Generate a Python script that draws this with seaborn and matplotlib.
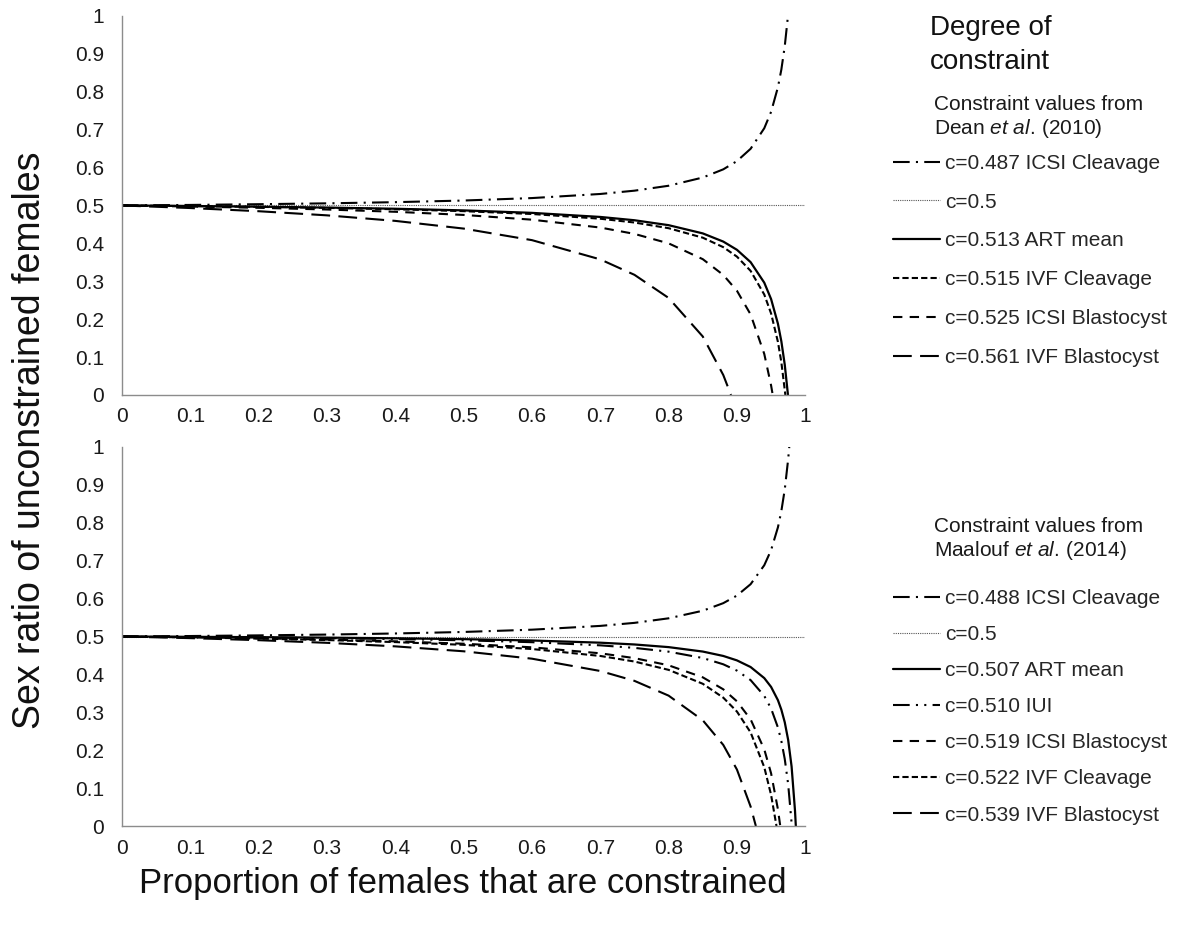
import matplotlib
matplotlib.use('Agg')
import matplotlib.pyplot as plt
import seaborn as sns

# axis ticks
TICKS = [0, 0.1, 0.2, 0.3, 0.4, 0.5, 0.6, 0.7, 0.8, 0.9, 1]
TICK_LABELS = ['0', '0.1', '0.2', '0.3', '0.4', '0.5', '0.6', '0.7', '0.8', '0.9', '1']

# values (Dean et al. 2010)
x_d487 = [0, .1, .2, .3, .4, .5, .6, .7, .75, .8, .85, .88, .9, .92, .94, .95, .96, .965, .97, .9747]
y_d487 = [.5, .5014, .5033, .5056, .5087, .513, .5195, .5303, .539, .552, .5737, .5953, .617, .6495,
          .7037, .747, .812, .8584, .9203, 1.0]
x_d500 = [0, 1]
y_d500 = [.5, .5]
x_d513 = [0, .1, .2, .3, .4, .5, .6, .7, .75, .8, .85, .88, .9, .92, .94, .95, .96, .965, .97, .9747]
y_d513 = [.5, .4986, .4968, .4944, .4913, .487, .4805, .4697, .461, .448, .4263, .4047, .383, .3505,
          .2963, .253, .188, .1416, .0797, 0]
x_d515 = [0, .1, .2, .3, .4, .5, .6, .7, .75, .8, .85, .88, .9, .92, .94, .95, .96, .965, .9709]
y_d515 = [.5, .4983, .4963, .4936, .49, .485, .4775, .465, .455, .44, .415, .39, .365, .3275,
          .265, .215, .14, .0864, 0]
x_d525 = [0, .1, .2, .3, .4, .5, .6, .7, .75, .8, .85, .88, .9, .92, .94, .95, .9524]
y_d525 = [.5, .4972, .4938, .4893, .4833, .475, .4625, .4417, .425, .4, .3583, .3167, .275, .2125,
          .1083, .025, 0]
x_d561 = [0, .1, .2, .3, .4, .5, .6, .7, .75, .8, .85, .88, .8913]
y_d561 = [.5, .4932, .4848, .4739, .4593, .439, .4085, .3577, .317, .256, .1543, .0527, 0]

# values (Maalouf et al. 2014)
x_m488 = [0, .1, .2, .3, .4, .5, .6, .7, .75, .8, .85, .88, .9, .92, .94, .95, .96, .965, .97, .975, .9766]
y_m488 = [.5, .5013, .503, .5051, .508, .512, .518, .528, .536, .548, .568, .588, .608, .638,
          .688, .728, .788, .8309, .888, .968, 1.0]
x_m500 = [0, 1]
y_m500 = [.5, .5]
x_m507 = [0, .1, .2, .3, .4, .5, .6, .7, .75, .8, .85, .88, .9, .92, .94, .95, .96, .965, .97, .975,
          .98, .985, .9862]
y_m507 = [.5, .4992, .4983, .497, .4953, .493, .4895, .4837, .479, .472, .4603, .4487, .437, .4195,
          .3903, .367, .332, .307, .2737, .227, .157, .0403, 0]
x_m510 = [0, .1, .2, .3, .4, .5, .6, .7, .75, .8, .85, .88, .9, .92, .94, .95, .96, .965, .97, .975, .9804]
y_m510 = [.5, .4989, .4975, .4957, .4933, .49, .485, .4767, .47, .46, .4433, .4267, .41, .385,
          .3433, .31, .26, .2243, .1767, .11, 0]
x_m519 = [0, .1, .2, .3, .4, .5, .6, .7, .75, .8, .85, .88, .9, .92, .94, .95, .96, .9634]
y_m519 = [.5, .4979, .4953, .4919, .4873, .481, .4715, .4557, .443, .424, .3923, .3607, .329, .2815,
          .2023, .139, .044, 0]
x_m522 = [0, .1, .2, .3, .4, .5, .6, .7, .75, .8, .85, .88, .9, .92, .94, .95, .9579]
y_m522 = [.5, .4976, .4945, .4906, .4853, .478, .467, .4487, .434, .412, .3753, .3387, .302, .247,
          .1553, .082, 0]
x_m539 = [0, .1, .2, .3, .4, .5, .6, .7, .75, .8, .85, .88, .9, .92, .9277]
y_m539 = [.5, .4957, .4903, .4833, .474, .461, .4415, .409, .383, .344, .279, .214, .149, .0515, 0]

# line styles per constraint type
LONG_DASH_DOT = (0, (8, 3, 1, 3))
LONG_DASH_DOT_DOT = (0, (8, 3, 1, 3, 1, 3))
SHORT_DASH = (0, (3, 1.5))
MED_DASH = (0, (4.5, 3.5))
LONG_DASH = (0, (9, 4))
DOTTED = (0, (1, 1))

top_curves = [
    (x_d487, y_d487, 'c=0.487 ICSI Cleavage', LONG_DASH_DOT, 1.5, 'black'),
    (x_d500, y_d500, 'c=0.5', DOTTED, 0.8, '#555555'),
    (x_d513, y_d513, 'c=0.513 ART mean', '-', 1.6, 'black'),
    (x_d515, y_d515, 'c=0.515 IVF Cleavage', SHORT_DASH, 1.5, 'black'),
    (x_d525, y_d525, 'c=0.525 ICSI Blastocyst', MED_DASH, 1.5, 'black'),
    (x_d561, y_d561, 'c=0.561 IVF Blastocyst', LONG_DASH, 1.5, 'black'),
]
bottom_curves = [
    (x_m488, y_m488, 'c=0.488 ICSI Cleavage', LONG_DASH_DOT, 1.5, 'black'),
    (x_m500, y_m500, 'c=0.5', DOTTED, 0.8, '#555555'),
    (x_m507, y_m507, 'c=0.507 ART mean', '-', 1.6, 'black'),
    (x_m510, y_m510, 'c=0.510 IUI', LONG_DASH_DOT_DOT, 1.5, 'black'),
    (x_m519, y_m519, 'c=0.519 ICSI Blastocyst', MED_DASH, 1.5, 'black'),
    (x_m522, y_m522, 'c=0.522 IVF Cleavage', SHORT_DASH, 1.5, 'black'),
    (x_m539, y_m539, 'c=0.539 IVF Blastocyst', LONG_DASH, 1.5, 'black'),
]

LEG_FS = 15


def style_axis(ax):
    ax.set_xlim(0, 1)
    ax.set_ylim(0, 1)
    ax.set_xticks(TICKS)
    ax.set_xticklabels(TICK_LABELS)
    ax.set_yticks(TICKS)
    ax.set_yticklabels(TICK_LABELS)
    ax.set_xlabel('')
    ax.set_ylabel('')
    for side in ['top', 'right']:
        ax.spines[side].set_visible(False)
    for side in ['left', 'bottom']:
        ax.spines[side].set_color('#8c8c8c')
        ax.spines[side].set_linewidth(1.0)
    ax.tick_params(direction='out', length=5, width=1, color='#8c8c8c',
                   labelsize=15, labelcolor='#1a1a1a')
    ax.tick_params(axis='y', pad=8)
    ax.tick_params(axis='x', pad=4)


def draw_panel(ax, curves, legend_y, spacing):
    for xs, ys, label, ls, lw, col in curves:
        sns.lineplot(x=xs, y=ys, ax=ax, color=col, linewidth=lw, linestyle=ls, label=label)
    style_axis(ax)
    handles, labels = ax.get_legend_handles_labels()
    ax.legend(handles, labels, loc='upper left', bbox_to_anchor=(1.129, legend_y),
              frameon=False, fontsize=LEG_FS, handlelength=2.26, handletextpad=0.2,
              labelspacing=spacing, borderpad=0, borderaxespad=0)


sns.set_theme(style='white')
plt.rcParams['font.family'] = ['Liberation Sans', 'DejaVu Sans']
plt.rcParams['mathtext.fontset'] = 'custom'
plt.rcParams['mathtext.rm'] = 'Liberation Sans'
plt.rcParams['mathtext.it'] = 'Liberation Sans:italic'

fig = plt.figure(figsize=(11.79, 9.32), dpi=100)
ax1 = fig.add_axes([0.1035, 0.5762, 0.5795, 0.4067])
ax2 = fig.add_axes([0.1035, 0.1137, 0.5795, 0.4067])

draw_panel(ax1, top_curves, 0.636, 0.95)
draw_panel(ax2, bottom_curves, 0.6253, 0.82)

W, H = 1179, 932
fig.text(930 / W, 1 - 28 / H, 'Degree of', fontsize=20, va='center', color='#111111')
fig.text(930 / W, 1 - 62 / H, 'constraint', fontsize=20, va='center', color='#111111')
fig.text(934 / W, 1 - 104 / H, 'Constraint values from', fontsize=LEG_FS, va='center', color='#1a1a1a')
fig.text(934 / W, 1 - 128 / H, r'Dean $\mathit{et\ al.}\,$(2010)', fontsize=LEG_FS, va='center', color='#1a1a1a')
fig.text(934 / W, 1 - 527 / H, 'Constraint values from', fontsize=LEG_FS, va='center', color='#1a1a1a')
fig.text(934 / W, 1 - 551 / H, r'Maalouf $\mathit{et\ al.}\,$(2014)', fontsize=LEG_FS, va='center', color='#1a1a1a')

fig.text(463 / W, 1 - 883 / H, 'Proportion of females that are constrained', fontsize=25,
         ha='center', va='center', color='#111111')
fig.text(30 / W, 1 - 440 / H, 'Sex ratio of unconstrained females', fontsize=27,
         ha='center', va='center', rotation=90, color='#111111')

fig.savefig('out.png', dpi=100)
